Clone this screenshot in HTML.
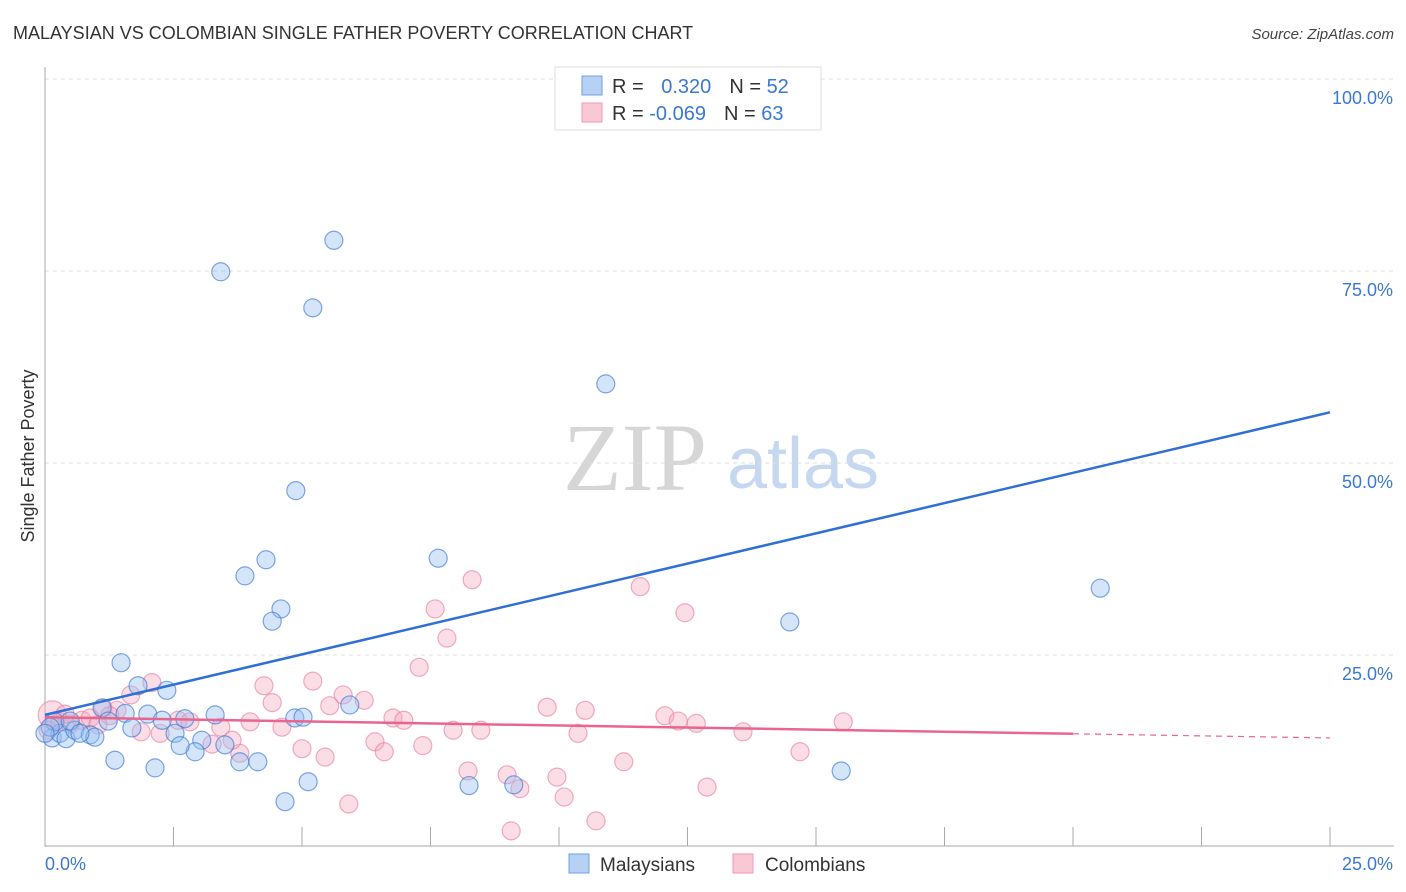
<!DOCTYPE html>
<html><head><meta charset="utf-8"><style>
body{margin:0;background:#fff;font-family:"Liberation Sans",sans-serif}
svg{display:block}
</style></head><body>
<svg id="chart" width="1406" height="892" xmlns="http://www.w3.org/2000/svg">
<text x="13" y="39" font-size="18" fill="#333">MALAYSIAN VS COLOMBIAN SINGLE FATHER POVERTY CORRELATION CHART</text>
<text x="1394" y="39" font-size="15" fill="#444" text-anchor="end" font-style="italic">Source: ZipAtlas.com</text>
<g>
<text x="635" y="490" font-size="96" font-family="Liberation Serif,serif" fill="#d6d6d6" text-anchor="middle">ZIP</text>
<text x="803" y="488" font-size="72" fill="#c6d8ef" text-anchor="middle">atlas</text>
</g>
<g id="grid"></g><g id="axes"></g><g id="pts"></g><g id="lines"></g>
<text transform="translate(34,456) rotate(-90)" font-size="18" fill="#333" text-anchor="middle">Single Father Poverty</text>
<g>
<rect x="555" y="67" width="266" height="63" fill="#fff" stroke="#ddd"/>
<rect x="582" y="76" width="20" height="19" fill="#b7d1f5" stroke="#6f9fe0"/>
<rect x="582" y="103" width="20" height="19" fill="#f9c8d5" stroke="#ee9ab1"/>
<text x="612" y="93" font-size="20" fill="#333">R = <tspan fill="#3a78d4" dx="12">0.320</tspan><tspan fill="#333" dx="18">N = </tspan><tspan fill="#3a78d4">52</tspan></text>
<text x="612" y="120" font-size="20" fill="#333">R = <tspan fill="#3a78d4">-0.069</tspan><tspan fill="#333" dx="18">N = </tspan><tspan fill="#3a78d4">63</tspan></text>
</g>
<g>
<rect x="569" y="854" width="20" height="19" fill="#b7d1f5" stroke="#6f9fe0"/>
<text x="600" y="871" font-size="19" fill="#333">Malaysians</text>
<rect x="733" y="854" width="20" height="19" fill="#f9c8d5" stroke="#ee9ab1"/>
<text x="765" y="871" font-size="19" fill="#333">Colombians</text>
</g>
</svg>
<script>
const blueX=[10.35,5.62,3.42,5.21,10.91,4.88,4.30,7.65,3.89,4.59,4.42,20.53,14.49,1.48,2.37,1.81,5.93,1.11,1.56,2.00,2.72,3.31,2.28,4.86,5.02,1.23,1.69,2.53,3.05,3.50,2.92,2.63,3.79,4.14,1.36,2.14,8.25,9.12,5.12,4.67,15.49,0.14,0.29,0.41,0.58,0.88,0.97,0.19,0.49,0.68,0.10,0.0];
const blueY=[100,79.0,74.9,70.2,60.3,46.4,37.4,37.6,35.3,31.0,29.4,33.7,29.3,24.0,20.4,21.0,18.5,18.1,17.4,17.3,16.7,17.2,16.5,16.8,16.9,16.4,15.5,14.8,13.9,13.3,12.4,13.2,11.1,11.1,11.3,10.3,8.0,8.1,8.5,5.9,9.9,14.2,14.8,14.1,15.2,14.6,14.3,16.3,16.4,14.8,15.6,14.8];
const pinkX=[8.31,11.58,7.59,12.45,7.82,7.28,5.21,2.08,4.26,1.67,5.80,6.21,4.42,5.54,1.13,1.40,9.77,10.51,12.06,6.77,6.98,12.32,12.67,15.53,3.99,7.94,8.48,2.59,2.82,3.42,2.24,1.87,4.61,6.42,7.35,5.00,6.60,13.58,10.37,14.69,3.79,3.25,3.64,5.45,8.23,8.99,9.96,11.26,9.24,10.10,12.88,5.91,9.07,10.72,0.14,0.29,0.49,0.06,0.72,0.88,1.26,1.03,0.39];
const pinkY=[34.8,33.9,31.0,30.5,27.2,23.4,21.6,21.4,21.0,19.8,19.8,19.1,18.8,18.4,18.1,17.8,18.2,17.8,17.1,16.8,16.5,16.4,16.1,16.3,16.3,15.2,15.2,16.5,16.3,15.6,14.8,15.0,15.6,13.7,13.2,12.8,12.4,15.0,14.8,12.4,12.2,13.4,13.9,11.7,9.9,9.4,9.1,11.1,7.6,6.5,7.8,5.6,2.1,3.4,17.2,16.3,16.0,15.2,16.5,16.8,17.1,15.9,17.3];
const blueTrend=[17.2,56.6];   // y at x=0 and x=25
const pinkTrend=[16.9,14.2];
const yTicks=[25,50,75,100];
const yLabels=["25.0%","50.0%","75.0%","100.0%"];
const xTicks=[0,2.5,5,7.5,10,12.5,15,17.5,20,22.5,25];
const NS="http://www.w3.org/2000/svg";
const sx=v=>45+v*51.4, sy=v=>847-v*7.68;
function mk(tag,attrs,parent){const e=document.createElementNS(NS,tag);for(const k in attrs)e.setAttribute(k,attrs[k]);document.getElementById(parent).appendChild(e);return e;}
yTicks.forEach((t,i)=>{
 const l=mk('line',{x1:45,x2:1394,y1:sy(t),y2:sy(t),stroke:'#ddd','stroke-dasharray':'4,4'},'grid');
 
 
 const tx=mk('text',{x:1393,y:sy(t)+25,'font-size':18,fill:'#3a78d4','text-anchor':'end'},'grid');
 tx.textContent=yLabels[i];
 
 
});
const ax=mk('line',{x1:45,x2:45,y1:67,y2:847,stroke:'#aaa'},'axes');


const bx=mk('line',{x1:45,x2:1394,y1:846,y2:846,stroke:'#aaa'},'axes');


xTicks.forEach(t=>{
 const l=mk('line',{x1:sx(t),x2:sx(t),y1:827,y2:846,stroke:'#aaa'},'axes');
 
 
});
const x0=mk('text',{x:45,y:870,'font-size':18,fill:'#3a78d4'},'axes');x0.textContent='0.0%';


const x1=mk('text',{x:1393,y:870,'font-size':18,fill:'#3a78d4','text-anchor':'end'},'axes');x1.textContent='25.0%';


pinkX.forEach((x,i)=>{
 const c=mk('circle',{cx:sx(x),cy:sy(pinkY[i]),r:i==54?14:9,fill:'rgba(246,170,192,0.4)',stroke:'rgba(232,120,155,0.6)','stroke-width':1.2},'pts');
 
 
});
blueX.forEach((x,i)=>{
 const c=mk('circle',{cx:sx(x),cy:sy(blueY[i]),r:9,fill:'rgba(150,190,240,0.4)',stroke:'rgba(60,120,210,0.65)','stroke-width':1.2},'pts');
 
 
});
const bl=mk('line',{x1:sx(0),y1:sy(blueTrend[0]),x2:sx(25),y2:sy(blueTrend[1]),stroke:'#2f6fd6','stroke-width':2.5},'lines');


const pe=pinkTrend[0]+(pinkTrend[1]-pinkTrend[0])*(20/25);
const pl=mk('line',{x1:sx(0),y1:sy(pinkTrend[0]),x2:sx(20),y2:sy(pe),stroke:'#e9658f','stroke-width':2.5},'lines');


const pd=mk('line',{x1:sx(20),y1:sy(pe),x2:sx(25),y2:sy(pinkTrend[1]),stroke:'#e9658f','stroke-width':1.2,'stroke-dasharray':'6,5'},'lines');


</script>
</body></html>
